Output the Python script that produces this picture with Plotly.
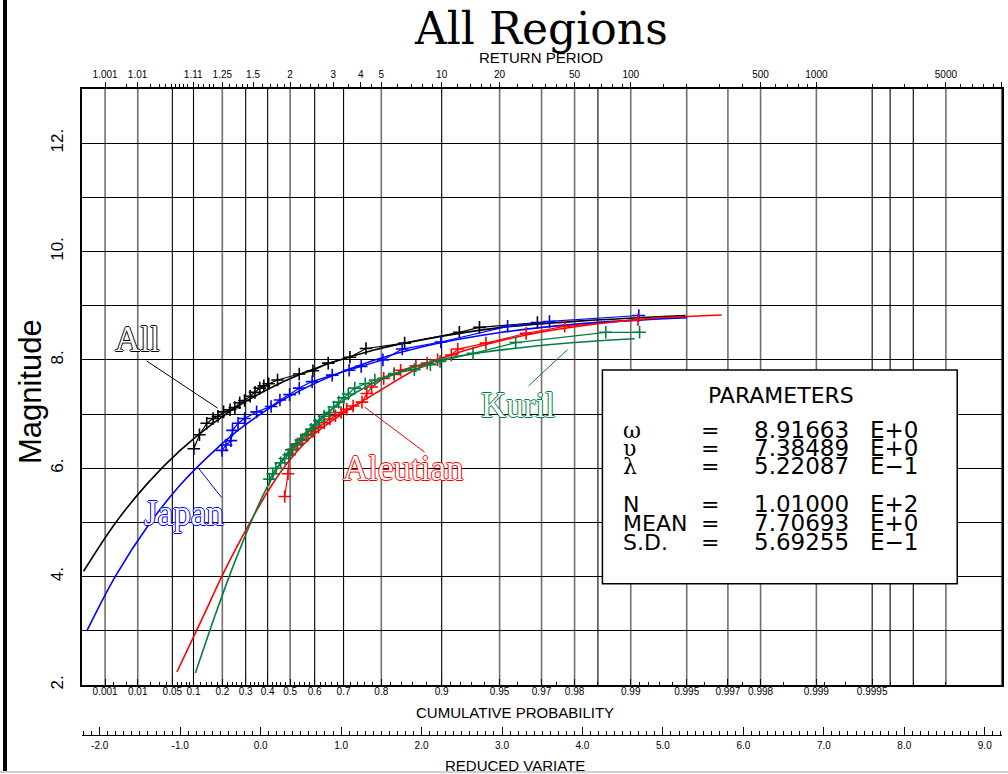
import numpy as np
import plotly.graph_objects as go

# ---------------- data (reduced variate, magnitude) ----------------
all_rv = [-0.83, -0.76, -0.67, -0.59, -0.53, -0.46, -0.38, -0.32, -0.26, -0.20, -0.13, -0.07,
          -0.01, 0.04, 0.10, 0.21, 0.48, 0.65, 0.84, 1.11, 1.31, 1.79, 2.47, 2.72, 3.44]
all_mag = [6.36, 6.62, 6.83, 6.92, 6.96, 7.04, 7.08, 7.12, 7.21, 7.25, 7.33, 7.40,
           7.48, 7.52, 7.56, 7.63, 7.74, 7.80, 7.94, 8.05, 8.21, 8.31, 8.51, 8.60, 8.69]

japan_rv = [-0.48, -0.43, -0.37, -0.35, -0.28, -0.20, -0.05, 0.13, 0.24, 0.36, 0.48, 0.64,
            0.89, 1.10, 1.25, 1.52, 1.76, 2.24, 3.07, 3.59, 4.70]
japan_mag = [6.33, 6.43, 6.51, 6.70, 6.83, 6.92, 7.04, 7.14, 7.26, 7.36, 7.48, 7.60,
             7.72, 7.81, 7.88, 8.00, 8.20, 8.33, 8.62, 8.71, 8.82]

aleut_rv = [0.30, 0.34, 0.36, 0.40, 0.46, 0.52, 0.59, 0.65, 0.72, 0.79, 0.86, 0.93, 1.00,
            1.07, 1.15, 1.26, 1.32, 1.38, 1.53, 1.66, 1.74, 1.93, 2.07, 2.20, 2.37, 2.45,
            2.80, 3.30, 3.78, 4.69]
aleut_mag = [5.48, 5.90, 6.25, 6.35, 6.45, 6.53, 6.61, 6.68, 6.76, 6.84, 6.91, 6.97, 7.03,
             7.09, 7.15, 7.22, 7.38, 7.50, 7.66, 7.73, 7.81, 7.89, 7.94, 8.00, 8.09, 8.20,
             8.31, 8.49, 8.62, 8.74]

kuril_rv = [0.11, 0.15, 0.19, 0.25, 0.30, 0.35, 0.38, 0.44, 0.50, 0.57, 0.63, 0.68, 0.73,
            0.79, 0.85, 0.91, 0.97, 1.03, 1.09, 1.17, 1.30, 1.42, 1.66, 1.91, 2.11, 2.23,
            2.64, 3.17, 4.29, 4.71]
kuril_mag = [5.80, 5.90, 6.00, 6.10, 6.18, 6.25, 6.34, 6.43, 6.52, 6.62, 6.72, 6.80, 6.88,
             6.96, 7.03, 7.13, 7.22, 7.30, 7.37, 7.48, 7.56, 7.63, 7.75, 7.82, 7.91, 7.97,
             8.12, 8.32, 8.51, 8.51]

# fitted curves
all_fit_rv = [-2.2, -1.8, -1.4, -1.0, -0.6, -0.2, 0.3, 0.8, 1.4, 2.0, 3.0, 4.0, 5.28]
all_fit_mag = [4.10, 5.00, 5.73, 6.33, 6.82, 7.22, 7.61, 7.91, 8.18, 8.37, 8.60, 8.72, 8.82]

japan_fit_rv = [-2.16, -1.8, -1.4, -1.0, -0.6, -0.2, 0.3, 0.8, 1.4, 2.0, 3.0, 4.0, 5.3]
japan_fit_mag = [3.00, 4.02, 4.94, 5.69, 6.29, 6.79, 7.28, 7.65, 7.99, 8.24, 8.51, 8.67, 8.78]

aleut_fit_rv = [-1.04, -0.75, -0.45, -0.15, 0.1, 0.36, 0.66, 1.02, 1.49, 2.0, 2.6, 3.3, 4.0, 4.8, 5.73]
aleut_fit_mag = [2.24, 3.15, 4.10, 4.95, 5.60, 6.15, 6.62, 7.01, 7.44, 7.88, 8.20, 8.46, 8.63, 8.76, 8.83]

kuril_fit_rv = [-0.81, -0.55, -0.3, 0.03, 0.34, 0.67, 1.0, 1.37, 1.91, 2.5, 3.2, 3.9, 4.65]
kuril_fit_mag = [2.22, 3.35, 4.35, 5.50, 6.30, 6.82, 7.22, 7.55, 7.87, 8.08, 8.22, 8.32, 8.39]

# axis tick labels
prob_labels = [0.001, 0.01, 0.05, 0.1, 0.2, 0.3, 0.4, 0.5, 0.6, 0.7, 0.8, 0.9, 0.95, 0.97,
               0.98, 0.99, 0.995, 0.997, 0.998, 0.999, 0.9995, 0.9999]
prob_text = ["0.001", "0.01", "0.05", "0.1", "0.2", "0.3", "0.4", "0.5", "0.6", "0.7", "0.8",
             "0.9", "0.95", "0.97", "0.98", "0.99", "0.995", "0.997", "0.998", "0.999",
             "0.9995", "0.9999"]
prob_minor = [0.002, 0.005, 0.02, 0.03, 0.04, 0.06, 0.07, 0.08, 0.09, 0.12, 0.14, 0.16, 0.18,
              0.22, 0.24, 0.26, 0.28, 0.32, 0.34, 0.36, 0.38, 0.42, 0.44, 0.46, 0.48, 0.52,
              0.54, 0.56, 0.58, 0.62, 0.64, 0.66, 0.68, 0.72, 0.74, 0.76, 0.78, 0.82, 0.84,
              0.86, 0.88, 0.91, 0.92, 0.93, 0.94, 0.96, 0.975, 0.985, 0.991, 0.992, 0.993,
              0.994, 0.996, 0.9975, 0.9985, 0.9991, 0.9993, 0.9996, 0.9997, 0.9998]
grid_black = [0.05, 0.1, 0.3, 0.4, 0.6, 0.7, 0.9, 0.985, 0.9995, 0.9996, 0.9997]
grid_gray = [0.001, 0.01, 0.2, 0.5, 0.8, 0.95, 0.97, 0.98, 0.99, 0.995, 0.997, 0.998, 0.999,
             0.9998, 0.9999]

rp_labels = [1.001, 1.01, 1.11, 1.25, 1.5, 2, 3, 4, 5, 10, 20, 50, 100, 500, 1000, 5000, 10000]
rp_text = ["1.001", "1.01", "1.11", "1.25", "1.5", "2", "3", "4", "5", "10", "20", "50", "100",
           "500", "1000", "5000", "10000"]
rp_minor = [1.005, 1.02, 1.03, 1.04, 1.05, 1.06, 1.07, 1.08, 1.09, 1.13, 1.15, 1.18, 1.2,
            1.3, 1.35, 1.4, 1.45, 1.6, 1.7, 1.8, 1.9, 2.2, 2.4, 2.6, 2.8, 3.5, 4.5, 6, 7, 8, 9,
            12, 14, 16, 18, 25, 30, 35, 40, 45, 60, 70, 80, 90, 150, 200, 300, 400, 600, 700,
            800, 900, 2000, 3000, 4000, 6000, 7000, 8000, 9000]

mag_ticks = [2, 3, 4, 5, 6, 7, 8, 9, 10, 11, 12, 13]
mag_text = ["2.", "", "4.", "", "6.", "", "8.", "", "10.", "", "12.", ""]

rv_major = [-2.0, -1.5, -1.0, -0.5, 0.0, 0.5, 1.0, 1.5, 2.0, 2.5, 3.0, 3.5, 4.0, 4.5, 5.0,
            5.5, 6.0, 6.5, 7.0, 7.5, 8.0, 8.5, 9.0]
rv_text = ["-2.0", "", "-1.0", "", "0.0", "", "1.0", "", "2.0", "", "3.0", "", "4.0", "",
           "5.0", "", "6.0", "", "7.0", "", "8.0", "", "9.0"]


def rv_p(p):
    return float(-np.log(-np.log(p)))


def rv_T(T):
    return rv_p(1.0 - 1.0 / T)


XR = [-2.22, rv_p(0.9999) + 0.004]
YR = [2, 13]

# pixel layout
L, R, T, B = 82, 1002, 89, 735


def px(x, y):
    return (x - L) / (R - L), (B - y) / (B - T)


SANS = "Liberation Sans"
BOXF = "DejaVu Sans"
col = {"All": "#000000", "Japan": "#0000ff", "Aleutian": "#ff0000", "Kuril": "#008040"}

fig = go.Figure()

series = [
    ("All", all_rv, all_mag, all_fit_rv, all_fit_mag),
    ("Japan", japan_rv, japan_mag, japan_fit_rv, japan_fit_mag),
    ("Aleutian", aleut_rv, aleut_mag, aleut_fit_rv, aleut_fit_mag),
    ("Kuril", kuril_rv, kuril_mag, kuril_fit_rv, kuril_fit_mag),
]
for name, xs, ys, fx, fy in series:
    c = col[name]
    fig.add_trace(go.Scatter(x=fx, y=fy, mode="lines", line=dict(color=c, width=1.6, shape="spline"),
                             showlegend=False, hoverinfo="skip"))
    fig.add_trace(go.Scatter(x=xs, y=ys, mode="lines+markers", line=dict(color=c, width=1.2),
                             marker=dict(symbol="cross-thin", size=9, line=dict(color=c, width=1.6)),
                             showlegend=False, name=name))

# dummy traces so that the extra axes get drawn
fig.add_trace(go.Scatter(x=[XR[0]], y=[YR[0]], xaxis="x2", mode="markers",
                         marker=dict(opacity=0), showlegend=False, hoverinfo="skip"))
fig.add_trace(go.Scatter(x=[XR[0]], y=[YR[0]], xaxis="x3", mode="markers",
                         marker=dict(opacity=0), showlegend=False, hoverinfo="skip"))

shapes = []
for p in grid_gray:
    shapes.append(dict(type="line", xref="x", yref="y domain", x0=rv_p(p), x1=rv_p(p), y0=0, y1=1,
                       line=dict(color="#707070", width=1.6), layer="below"))
for p in grid_black:
    shapes.append(dict(type="line", xref="x", yref="y domain", x0=rv_p(p), x1=rv_p(p), y0=0, y1=1,
                       line=dict(color="black", width=1.1), layer="below"))

# leader lines for the labels
leaders = [
    ("All", (-1.416, 7.98), (-0.534, 7.11)),
    ("Japan", (-0.783, 6.02), (-0.484, 5.46)),
    ("Aleutian", (1.292, 7.13), (2.037, 6.30)),
    ("Kuril", (3.814, 8.19), (3.329, 7.52)),
]
for name, a, b in leaders:
    shapes.append(dict(type="line", xref="x", yref="y", x0=a[0], y0=a[1], x1=b[0], y1=b[1],
                       line=dict(color=col[name], width=1), layer="above"))

# parameters box
shapes.append(dict(type="rect", xref="x", yref="y", x0=4.248, x1=8.658, y0=3.87, y1=7.815,
                   fillcolor="white", line=dict(color="black", width=1.5), layer="above"))

# left frame line and bottom border
fx0, _ = px(5, 0)
shapes.append(dict(type="line", xref="paper", yref="paper", x0=fx0, x1=fx0,
                   y0=px(0, 772)[1], y1=px(0, 0)[1], line=dict(color="black", width=4)))
shapes.append(dict(type="line", xref="paper", yref="paper", x0=px(0, 0)[0], x1=px(1008, 0)[0],
                   y0=px(0, 772)[1], y1=px(0, 772)[1], line=dict(color="#d0d0d0", width=2)))

annotations = []


def ann(text, x, y, size, family=SANS, xanchor="center", color="black", angle=0, **kw):
    ax, ay = px(x, y)
    annotations.append(dict(text=text, x=ax, y=ay, xref="paper", yref="paper", showarrow=False,
                            xanchor=xanchor, yanchor="middle", textangle=angle,
                            font=dict(family=family, size=size, color=color, **kw)))


ann("All Regions", 541, 28, 44, family="DejaVu Serif")
ann("RETURN PERIOD", 541, 57, 15)
ann("CUMULATIVE PROBABILITY", 515, 712, 15)
ann("REDUCED VARIATE", 515, 765, 15)
ann("Magnitude", 30, 392, 31, angle=-90)

ann("PARAMETERS", 781, 395, 22, family=BOXF)
sym = ["ω", "υ", "λ", "N", "MEAN", "S.D."]
vals = ["8.91663", "7.38489", "5.22087", "1.01000", "7.70693", "5.69255"]
exps = ["E+0", "E+0", "E−1", "E+2", "E+0", "E−1"]
rows_y = [430, 448, 466, 504, 523, 542]
for s, v, e, yy in zip(sym, vals, exps, rows_y):
    fam = "DejaVu Serif" if s in ("ω", "υ", "λ") else BOXF
    ann(s, 621, yy, 22, family=fam, xanchor="left")
    ann("=", 710, yy, 22, family=BOXF)
    ann(v, 752, yy, 23, family=BOXF, xanchor="left")
    ann(e, 868, yy, 23, family=BOXF, xanchor="left")

# outlined series labels
labels = [("All", -1.53, 8.37), ("Japan", -0.957, 5.17), ("Aleutian", 1.776, 6.0), ("Kuril", 3.205, 7.15)]
for name, lx, ly in labels:
    c = col[name]
    sh = f"1px 0 0 {c}, -1px 0 0 {c}, 0 1px 0 {c}, 0 -1px 0 {c}"
    annotations.append(dict(text=name, x=lx, y=ly, xref="x", yref="y", showarrow=False,
                            xanchor="center", yanchor="middle",
                            font=dict(family="Liberation Serif", size=35, color="white", shadow=sh)))

ydom0 = (B - 685) / (B - T)

fig.update_layout(
    width=1008, height=774,
    margin=dict(l=L, r=1008 - R, t=T, b=774 - B, autoexpand=False),
    paper_bgcolor="white", plot_bgcolor="white",
    showlegend=False,
    shapes=shapes, annotations=annotations,
    xaxis=dict(range=XR, anchor="y", side="bottom", showgrid=False, zeroline=False, automargin=False,
               tickmode="array", tickvals=[rv_p(p) for p in prob_labels], ticktext=prob_text,
               ticks="inside", ticklen=6, tickcolor="black", tickwidth=1,
               showline=True, linecolor="black", linewidth=1.5,
               tickfont=dict(family=SANS, size=10, color="black"), ticklabelstandoff=-4,
               minor=dict(tickvals=[rv_p(p) for p in prob_minor], ticks="inside", ticklen=3,
                          tickcolor="black", showgrid=False)),
    xaxis2=dict(range=XR, overlaying="x", anchor="free", position=0, side="bottom", automargin=False,
                showgrid=False, zeroline=False, tickmode="array", tickvals=rv_major, ticktext=rv_text,
                ticks="inside", ticklen=8, tickcolor="black", showline=True, linecolor="black",
                linewidth=1.2, tickfont=dict(family=SANS, size=10, color="black"),
                ticklabelstandoff=1,
                minor=dict(tickvals=[round(v, 1) for v in np.arange(-2.2, 9.21, 0.1)], ticks="inside",
                           ticklen=4, tickcolor="black", showgrid=False)),
    xaxis3=dict(range=XR, overlaying="x", anchor="y", side="top", showgrid=False, zeroline=False,
                automargin=False,
                tickmode="array", tickvals=[rv_T(t) for t in rp_labels], ticktext=rp_text,
                ticks="outside", ticklen=5, tickcolor="black", showline=True, linecolor="black",
                linewidth=1.5, tickfont=dict(family=SANS, size=10, color="black"),
                minor=dict(tickvals=[rv_T(t) for t in rp_minor], ticks="outside", ticklen=3,
                           tickcolor="black", showgrid=False)),
    yaxis=dict(range=YR, domain=[ydom0, 1], tickmode="array", tickvals=mag_ticks, ticktext=mag_text,
               showgrid=True, gridcolor="black", gridwidth=1.1, zeroline=False, automargin=False,
               showline=True, linecolor="black", linewidth=1.5, mirror=True, ticks="",
               tickangle=-90, tickfont=dict(family=SANS, size=17, color="black"),
               ticklabelstandoff=10),
)

fig.write_html("out.html", config={"displayModeBar": False},
               post_script="document.body.style.margin='0';")
